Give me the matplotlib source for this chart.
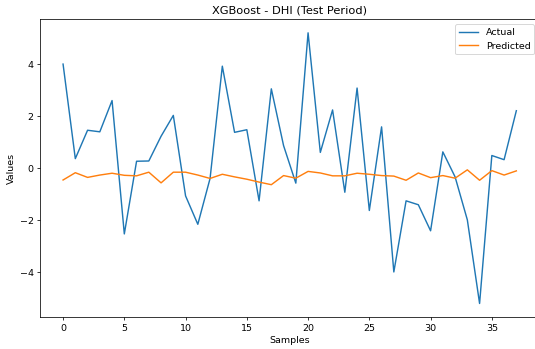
import matplotlib
matplotlib.use("Agg")
import matplotlib.pyplot as plt
import numpy as np

samples = np.arange(38)

actual = [4.00, 0.37, 1.46, 1.40, 2.60, -2.52, 0.27, 0.28, 1.23, 2.03,
          -1.06, -2.15, -0.39, 3.92, 1.38, 1.48, -1.25, 3.05, 0.87, -0.57,
          5.20, 0.61, 2.24, -0.92, 3.08, -1.62, 1.59, -3.98, -1.25, -1.40,
          -2.40, 0.63, -0.33, -1.98, -5.19, 0.49, 0.33, 2.21]

predicted = [-0.45, -0.17, -0.35, -0.26, -0.19, -0.27, -0.29, -0.15, -0.56, -0.15,
             -0.15, -0.26, -0.39, -0.23, -0.33, -0.42, -0.53, -0.63, -0.28, -0.38,
             -0.12, -0.18, -0.29, -0.29, -0.19, -0.23, -0.28, -0.30, -0.46, -0.18,
             -0.36, -0.28, -0.38, -0.06, -0.46, -0.09, -0.26, -0.10]

W, H = 535, 349
dpi = W / 7.8
fig = plt.figure(figsize=(W / dpi, H / dpi), dpi=dpi)
# the axes run slightly past the right edge of the canvas
ax = fig.add_axes([40.4 / W, 1 - 317 / H, (539 - 40.4) / W, (317 - 19.3) / H])

ax.plot(samples, actual, label="Actual")
ax.plot(samples, predicted, label="Predicted")
ax.set_title("XGBoost - DHI (Test Period)")
ax.set_xlabel("Samples")
ax.set_ylabel("Values")
ax.legend(loc="upper right")
ax.spines["right"].set_visible(False)

fig.savefig("out.png", dpi=dpi)
